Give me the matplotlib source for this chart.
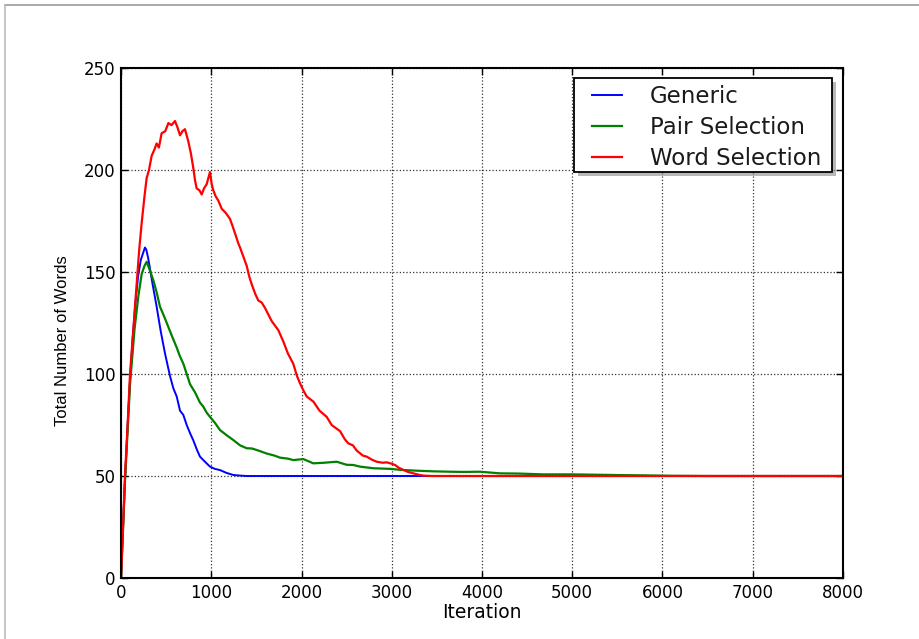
import matplotlib
matplotlib.use("Agg")
import matplotlib.pyplot as plt
from matplotlib.lines import Line2D
from matplotlib.patches import Rectangle

# ---- data ----
generic_x = [0, 20, 44, 70, 100, 130, 160, 190, 220, 250, 265, 280, 300, 320, 350, 395, 440, 488,
             543, 580, 617, 654, 690, 728, 765, 801, 840, 875, 930, 986, 1040, 1097, 1170, 1245,
             1320, 1393, 1500, 8000]
generic_y = [0, 22, 48, 72, 97, 118, 135, 148, 156, 160, 162, 161, 157, 152, 144, 133, 121, 110,
             99, 93, 89, 82, 80, 75, 71, 67.5, 63, 59.5, 57, 54.6, 53.5, 52.9, 51.5, 50.5,
             50.2, 50, 50, 50]

pair_x = [0, 44, 100, 150, 192, 229, 260, 284, 310, 358, 395, 432, 480, 525, 570, 617, 650, 691,
          728, 765, 820, 875, 912, 950, 986, 1042, 1097, 1170, 1245, 1320, 1393, 1450, 1520, 1615,
          1700, 1762, 1850, 1909, 2020, 2131, 2250, 2390, 2500, 2574, 2648, 2796, 2980, 3100,
          3276, 3450, 3645, 3800, 3978, 4199, 4400, 4680, 5000, 5300, 5600, 5800, 6100, 6500, 8000]
pair_y = [0, 47, 95, 122, 138, 149, 153, 155, 152, 146, 140, 133, 128, 123, 118, 113, 109, 105,
          100, 95, 91, 86, 84, 81, 79, 76, 72.5, 70, 67.6, 65, 63.6, 63.5, 62.5, 61,
          60, 59, 58.5, 57.8, 58.3, 56.2, 56.5, 57, 55.5, 55.4, 54.6, 53.8, 53.5, 53,
          52.6, 52.3, 52.1, 52, 52.1, 51.3, 51.2, 50.8, 50.8, 50.6, 50.4, 50.3, 50.1, 50, 50]

word_x = [0, 20, 44, 70, 100, 137, 170, 200, 229, 260, 284, 310, 340, 370, 395, 420, 450, 490,
          525, 560, 598, 625, 654, 680, 709, 746, 775, 801, 820, 838, 870, 894, 920, 949, 986,
          1005, 1023, 1050, 1078, 1116, 1160, 1208, 1240, 1263, 1300, 1319, 1360, 1393, 1420,
          1448, 1490, 1522, 1560, 1600, 1669, 1743, 1798, 1850, 1909, 1950, 1983, 2020, 2057,
          2131, 2200, 2279, 2334, 2427, 2480, 2519, 2570, 2611, 2680, 2722, 2780, 2833, 2900,
          2944, 3000, 3036, 3080, 3128, 3180, 3239, 3300, 3350, 3450, 8000]
word_y = [0, 22, 50, 72, 100, 122, 142, 160, 174, 187, 196, 200, 207, 210, 213, 211, 218, 219,
          223, 222, 224, 221, 217, 219, 220, 214, 208, 201, 195, 191, 190, 188, 191, 193, 199,
          193, 190, 187, 185, 181, 179, 176, 172, 169, 164, 162, 157, 153, 148,
          144, 139, 136, 135, 132, 126, 121.5, 116, 110, 105, 99, 95.5, 92, 89,
          86.5, 82, 79, 75, 72, 68, 66, 65, 62.5, 60, 59.5, 58, 57, 56.5,
          56.7, 56, 55.4, 54, 53, 52, 51.3, 50.6, 50.2, 50, 50]

series_labels = ["Generic", "Pair Selection", "Word Selection"]
x_ticks = [0, 1000, 2000, 3000, 4000, 5000, 6000, 7000, 8000]
y_ticks = [0, 50, 100, 150, 200, 250]

# ---- figure ----
W, H = 919, 639
fig = plt.figure(figsize=(W / 100, H / 100), dpi=100)
ax = fig.add_axes([121 / W, 1 - 578 / H, (843 - 121) / W, (578 - 68) / H])

ax.plot(generic_x, generic_y, color="#0000ff", lw=1.4, label=series_labels[0])
ax.plot(pair_x, pair_y, color="#008000", lw=1.6, label=series_labels[1])
ax.plot(word_x, word_y, color="#ff0000", lw=1.6, label=series_labels[2])

ax.set_xlim(0, 8000)
ax.set_ylim(0, 250)
ax.set_xticks(x_ticks)
ax.set_yticks(y_ticks)
ax.tick_params(direction="in", length=5, width=1, top=True, right=True,
               labelsize=12, pad=4)
for sp in ax.spines.values():
    sp.set_linewidth(1.5)
ax.grid(True, linestyle=":", color="black", linewidth=0.9, alpha=0.8)

ax.set_xlabel("Iteration", fontsize=13.5, labelpad=1)
ax.set_ylabel("Total Number of Words", fontsize=12, family="Liberation Sans")
ax.yaxis.set_label_coords((70 - 121) / 722, (578 - 341) / 510)

# legend frame with shadow (figure pixel geometry)
def fx(px):
    return px / W

def fy(py):
    return 1 - py / H

shadow = Rectangle((fx(578), fy(176)), fx(832) - fx(574), fy(78) - fy(172),
                   transform=fig.transFigure, facecolor="#8a8a8a", edgecolor="none",
                   alpha=0.6, zorder=5, clip_on=False)
frame = Rectangle((fx(574), fy(172)), fx(832) - fx(574), fy(78) - fy(172),
                  transform=fig.transFigure, facecolor="white", edgecolor="black",
                  linewidth=1.3, zorder=6, clip_on=False)
ax.add_patch(shadow)
ax.add_patch(frame)

leg = ax.legend(loc="upper left", bbox_to_anchor=(fx(592), fy(85)),
                bbox_transform=fig.transFigure,
                fontsize=16.5, frameon=False, borderpad=0, labelspacing=0.35,
                handlelength=1.31, handletextpad=1.22, borderaxespad=0)
leg.set_zorder(7)
for t in leg.get_texts():
    t.set_color("#1a1a1a")

# outer screenshot frame (top and left grey lines)
fig.add_artist(Line2D([5 / W, 1], [1 - 5 / H, 1 - 5 / H], color="#999999", lw=1.2))
fig.add_artist(Line2D([5 / W, 5 / W], [0, 1 - 5 / H], color="#bbbbbb", lw=1.2))

fig.savefig("out.png", dpi=100)
